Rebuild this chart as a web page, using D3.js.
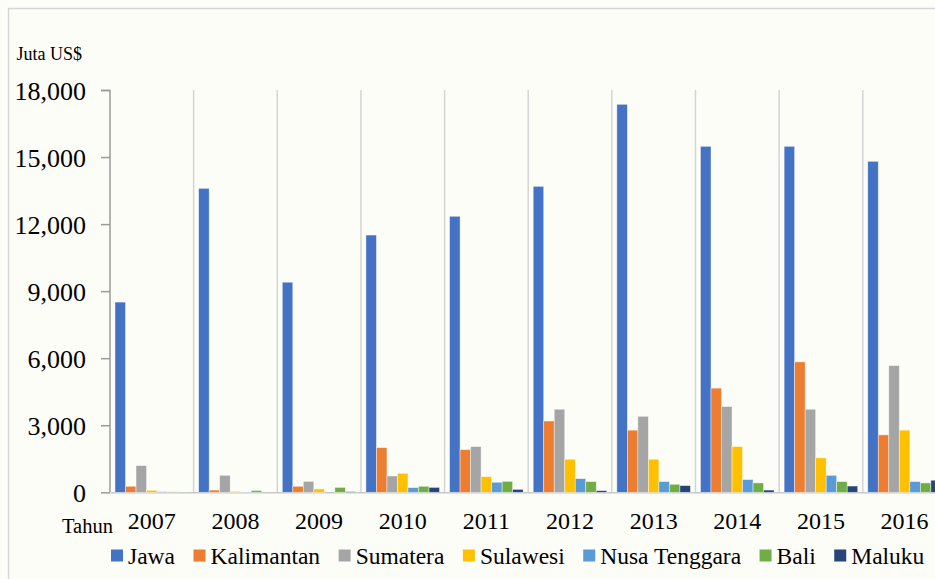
<!DOCTYPE html>
<html>
<head>
<meta charset="utf-8">
<script src="https://cdn.jsdelivr.net/npm/d3@7/dist/d3.min.js"></script>
<style>
  html, body { margin: 0; padding: 0; background: #fdfdf8; }
  svg { display: block; }
</style>
</head>
<body>
<svg id="chart" width="935" height="579"></svg>
<script>
const years = ["2007","2008","2009","2010","2011","2012","2013","2014","2015","2016"];
const seriesNames = ["Jawa","Kalimantan","Sumatera","Sulawesi","Nusa Tenggara","Bali","Maluku"];
const jawa        = [8510, 13600, 9400, 11510, 12350, 13690, 17360, 15480, 15480, 14810];
const kalimantan  = [270, 100, 270, 2000, 1910, 3190, 2780, 4660, 5835, 2570];
const sumatera    = [1195, 760, 490, 730, 2045, 3717, 3400, 3836, 3717, 5670];
const sulawesi    = [90, 40, 150, 850, 700, 1480, 1480, 2045, 1540, 2780];
const nusaTenggara= [30, 10, 0, 210, 450, 610, 480, 570, 760, 480];
const bali        = [20, 80, 220, 270, 490, 480, 360, 420, 480, 420];
const maluku      = [10, 0, 30, 220, 130, 75, 300, 100, 280, 540];
const yTicks = [0, 3000, 6000, 9000, 12000, 15000, 18000];
const colors = ["#4472C4","#ED7D31","#A5A5A5","#FFC000","#5B9BD5","#70AD47","#264478"];

const FONT = "'Liberation Serif', 'Times New Roman', serif";
const seriesValues = [jawa, kalimantan, sumatera, sulawesi, nusaTenggara, bali, maluku];
const table = years.map((yr, i) => ({ year: yr, values: seriesValues.map((s, j) => ({ name: seriesNames[j], value: s[i], idx: j })) }));

const svg = d3.select("#chart");

// outer border (chart frame)
svg.append("rect").attr("x", 8.5).attr("y", 8.5).attr("width", 1000).attr("height", 1000)
  .attr("fill", "none").attr("stroke", "#d6d6d6").attr("stroke-width", 1.5);

const x0 = d3.scaleBand().domain(years).range([110, 946.4]).padding(0);
const x1 = d3.scaleBand().domain(seriesNames).range([5, 78.6]).padding(0);
const y = d3.scaleLinear().domain([0, 18000]).range([492.3, 90]);

// vertical gridlines at category boundaries
svg.append("g").selectAll("line").data(years)
  .join("line")
  .attr("x1", d => x0(d) + x0.bandwidth())
  .attr("x2", d => x0(d) + x0.bandwidth())
  .attr("y1", 90).attr("y2", 492.3)
  .attr("stroke", "#d4d4d4").attr("stroke-width", 1.5);

// y axis
const yAxis = d3.axisLeft(y).tickValues(yTicks).tickSize(9).tickPadding(15)
  .tickFormat(d3.format(","));
const gy = svg.append("g").attr("transform", "translate(110,0)").call(yAxis);
gy.select(".domain").attr("stroke", "#9a9a9a").attr("stroke-width", 1.5).attr("d", "M-9,90.5H0V492.3");
gy.selectAll(".tick line").attr("stroke", "#9a9a9a").attr("stroke-width", 1.5);
gy.selectAll(".tick text").style("font-size", "26px").style("font-family", FONT).attr("fill", "#000").attr("dy", "0.36em");

// x axis
const xAxis = d3.axisBottom(x0).tickSize(0).tickPadding(32);
const gx = svg.append("g").attr("transform", "translate(0,492.3)").call(xAxis);
gx.select(".domain").attr("stroke", "#c8c8c8").attr("stroke-width", 1.5);
gx.selectAll(".tick text").style("font-size", "24px").style("font-family", FONT).attr("fill", "#000").attr("dy", "0.2em");

// bars
const groups = svg.append("g").selectAll("g").data(table).join("g")
  .attr("transform", d => `translate(${x0(d.year)},0)`);
groups.selectAll("rect").data(d => d.values).join("rect")
  .attr("x", d => x1(d.name))
  .attr("width", x1.bandwidth())
  .attr("y", d => y(d.value))
  .attr("height", d => y(0) - y(d.value))
  .attr("fill", d => colors[d.idx])
  .attr("stroke", "#ffffff").attr("stroke-opacity", 0.6).attr("stroke-width", 0.7);

// labels
svg.append("text").attr("x", 16.5).attr("y", 59.5).style("font-size", "18px").style("font-family", FONT).text("Juta US$");
svg.append("text").attr("x", 62).attr("y", 533).style("font-size", "20.5px").style("font-family", FONT).text("Tahun");

// legend
const legend = svg.append("g");
let lx = 111;
seriesNames.forEach((name, i) => {
  legend.append("rect").attr("x", lx).attr("y", 549.5).attr("width", 12).attr("height", 12).attr("fill", colors[i]);
  const t = legend.append("text").attr("x", lx + 17).attr("y", 564.3)
    .style("font-size", "23.5px").style("font-family", FONT).attr("fill", "#000").text(name);
  lx += 17 + t.node().getComputedTextLength() + 18.5;
});
</script>
</body>
</html>
